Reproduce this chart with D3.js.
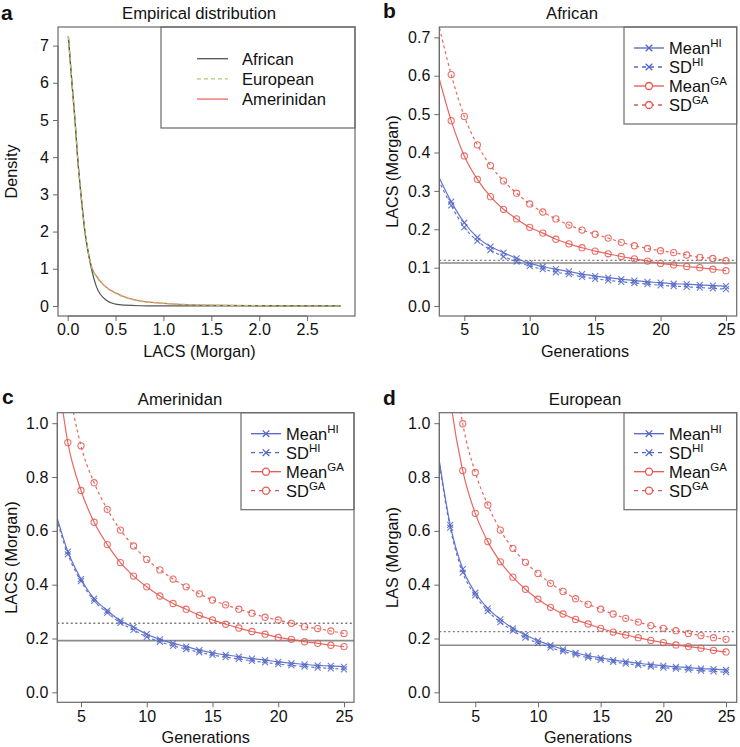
<!DOCTYPE html>
<html><head><meta charset="utf-8">
<script src="https://cdn.jsdelivr.net/npm/d3@7"></script>
<style>
html,body{margin:0;padding:0;background:#fff;}
svg{display:block;font-family:"Liberation Sans",Arial,Helvetica,sans-serif;}
</style></head>
<body><svg id="chart" width="740" height="747"></svg>
<script>
// ---------- Panel a: empirical densities ----------
const densX          = [0.007,0.045,0.077,0.104,0.139,0.18,0.21,0.25,0.3,0.4,0.5,0.6,0.75,1.0,1.25,1.5,2.0,2.5,2.85];
const densAfrican    = [7.26,6.0,5.0,4.0,3.0,2.0,1.5,0.98,0.52,0.16,0.05,0.02,0.005,0.001,0,0,0,0,0];
const densEuropean   = [7.26,6.0,5.0,4.0,3.0,2.0,1.52,1.05,0.79,0.5,0.34,0.23,0.13,0.07,0.035,0.02,0.006,0.002,0.001];
const densAmerinidan = [7.22,5.95,4.95,3.97,2.98,2.0,1.52,1.05,0.80,0.51,0.35,0.235,0.135,0.07,0.035,0.02,0.006,0.002,0.001];
const densLabels = ["African","European","Amerinidan"];

// ---------- Panel b: African ----------
const gensB   = [3,4,5,6,7,8,9,10,11,12,13,14,15,16,17,18,19,20,21,22,23,24,25];
const meanHI_B = [0.34,0.272,0.217,0.179,0.155,0.139,0.124,0.111,0.103,0.096,0.090,0.083,0.078,0.074,0.070,0.066,0.063,0.061,0.058,0.057,0.055,0.053,0.052];
const sdHI_B   = [0.33,0.262,0.205,0.170,0.146,0.129,0.116,0.104,0.096,0.088,0.083,0.076,0.071,0.067,0.063,0.060,0.057,0.054,0.052,0.050,0.048,0.046,0.044];
const meanGA_B = [0.603,0.483,0.391,0.330,0.285,0.252,0.227,0.205,0.190,0.174,0.162,0.152,0.143,0.136,0.129,0.123,0.117,0.111,0.107,0.103,0.100,0.096,0.092];
const sdGA_B   = [0.74,0.603,0.494,0.420,0.366,0.326,0.294,0.266,0.245,0.227,0.211,0.198,0.187,0.177,0.166,0.157,0.150,0.144,0.139,0.133,0.127,0.124,0.118];
const refB = {solid:0.112, dotted:0.119};

// ---------- Panel c: Amerinidan ----------
const gensC   = [3,4,5,6,7,8,9,10,11,12,13,14,15,16,17,18,19,20,21,22,23,24,25];
const meanHI_C = [0.68,0.523,0.421,0.348,0.304,0.266,0.242,0.216,0.197,0.182,0.170,0.157,0.147,0.139,0.133,0.125,0.120,0.113,0.108,0.104,0.100,0.098,0.095];
const sdHI_C   = [0.67,0.513,0.413,0.340,0.296,0.258,0.232,0.206,0.188,0.173,0.161,0.149,0.139,0.131,0.124,0.117,0.111,0.105,0.100,0.096,0.092,0.089,0.085];
const meanGA_C = [1.28,0.928,0.750,0.632,0.549,0.482,0.432,0.392,0.358,0.330,0.309,0.286,0.269,0.253,0.239,0.226,0.216,0.204,0.197,0.188,0.182,0.175,0.170];
const sdGA_C   = [1.55,1.16,0.916,0.779,0.680,0.603,0.544,0.494,0.455,0.421,0.392,0.366,0.343,0.325,0.309,0.294,0.279,0.269,0.2565,0.244,0.237,0.228,0.219];
const refC = {solid:0.192, dotted:0.2565};

// ---------- Panel d: European ----------
const gensD   = [2,3,4,5,6,7,8,9,10,11,12,13,14,15,16,17,18,19,20,21,22,23,24,25];
const meanHI_D = [0.90,0.622,0.458,0.370,0.312,0.271,0.238,0.213,0.192,0.175,0.160,0.147,0.136,0.128,0.120,0.114,0.108,0.103,0.099,0.095,0.092,0.088,0.086,0.083];
const sdHI_D   = [0.89,0.612,0.445,0.360,0.302,0.261,0.229,0.203,0.183,0.166,0.152,0.140,0.129,0.121,0.113,0.107,0.101,0.096,0.092,0.088,0.084,0.081,0.078,0.075];
const meanGA_D = [1.65,1.10,0.824,0.665,0.560,0.485,0.428,0.383,0.346,0.316,0.291,0.271,0.254,0.238,0.224,0.213,0.203,0.193,0.185,0.176,0.170,0.164,0.156,0.150];
const sdGA_D   = [2.0,1.33,0.998,0.817,0.696,0.603,0.535,0.483,0.442,0.405,0.375,0.348,0.327,0.309,0.291,0.275,0.261,0.248,0.238,0.229,0.219,0.211,0.203,0.197];
const refD = {solid:0.175, dotted:0.2255};

const genTicks = [5,10,15,20,25];
const ticksB = [0,0.1,0.2,0.3,0.4,0.5,0.6,0.7];
const ticksCD = [0,0.2,0.4,0.6,0.8,1.0];
const densYTicks = [0,1,2,3,4,5,6,7];
const densXTicks = [0,0.5,1.0,1.5,2.0,2.5];
const seriesNames = [["Mean","HI"],["SD","HI"],["Mean","GA"],["SD","GA"]];

const BLUE = "#5267c6", RED = "#e5574f", BOX = "#6a6a6a";
const svg = d3.select("#chart");
let clipId = 0;

function frame(p){
  const g = svg.append("g");
  const x = d3.scaleLinear().domain(p.xd).range([p.l, p.r]);
  const y = d3.scaleLinear().domain(p.yd).range([p.b, p.t]);
  const ya = d3.axisLeft(y).tickValues(p.yt).tickSize(5).tickPadding(4).tickFormat(p.yf);
  const xa = d3.axisBottom(x).tickValues(p.xt).tickSize(5).tickPadding(3).tickFormat(p.xf);
  const gy = g.append("g").attr("transform",`translate(${p.l},0)`).call(ya);
  const gx = g.append("g").attr("transform",`translate(0,${p.b})`).call(xa);
  [gy,gx].forEach(a=>{
    a.select(".domain").remove();
    a.selectAll("line").attr("stroke",BOX);
    a.selectAll("text").attr("fill","#111").style("font-size","16px");
  });
  gy.append("line").attr("x1",0).attr("x2",0).attr("y1",y(p.yt[0])).attr("y2",y(p.yt[p.yt.length-1])).attr("stroke",BOX);
  gx.append("line").attr("y1",0).attr("y2",0).attr("x1",x(p.xt[0])).attr("x2",x(p.xt[p.xt.length-1])).attr("stroke",BOX);
  const id = "clip"+(clipId++);
  svg.append("clipPath").attr("id",id).append("rect").attr("x",p.l).attr("y",p.t).attr("width",p.r-p.l).attr("height",p.b-p.t);
  const plot = g.append("g").attr("clip-path",`url(#${id})`);
  g.append("text").attr("x",p.titleX).attr("y",p.t-8).attr("text-anchor","middle").style("font-size","16.7px").attr("fill","#111").text(p.title);
  g.append("text").attr("x",p.letterX).attr("y",p.letterY).style("font-size","21px").style("font-weight","bold").attr("fill","#111").text(p.letter);
  g.append("text").attr("x",(p.l+p.r)/2 + (p.xlabDx||0)).attr("y",p.b+41).attr("text-anchor","middle").style("font-size","16.2px").attr("fill","#111").text(p.xlab);
  g.append("text").attr("transform",`translate(${p.ylabX},${(p.t+p.b)/2}) rotate(-90)`).attr("text-anchor","middle").attr("dy","0.35em").style("font-size","16.2px").attr("fill","#111").text(p.ylab);
  return {g, plot, x, y, drawBox(){ g.append("rect").attr("x",p.l).attr("y",p.t).attr("width",p.r-p.l).attr("height",p.b-p.t).attr("fill","none").attr("stroke",BOX).attr("stroke-width",1.2); }};
}

// ----- Panel a -----
(function(){
  const p = {l:58,r:355,t:27,b:316,xd:[-0.101,3.0],yd:[-0.27,7.5],xt:densXTicks,yt:densYTicks,
    xf:d3.format(".1f"), yf:d3.format("d"), title:"Empirical distribution", titleX:199, letter:"a", letterX:1, letterY:20,
    xlab:"LACS (Morgan)", xlabDx:-7, ylab:"Density", ylabX:11};
  const f = frame(p);
  const line = d3.line().x((d,i)=>f.x(densX[i])).y(d=>f.y(d)).curve(d3.curveMonotoneX);
  f.plot.append("path").attr("d",line(densAmerinidan)).attr("fill","none").attr("stroke","#ee6a62").attr("stroke-width",1.3);
  f.plot.append("path").attr("d",line(densAfrican)).attr("fill","none").attr("stroke","#555").attr("stroke-width",1.2);
  f.plot.append("path").attr("d",line(densEuropean)).attr("fill","none").attr("stroke","#a3cf6a").attr("stroke-width",1.3).attr("stroke-dasharray","4,3");
  const lg = f.g.append("g");
  lg.append("rect").attr("x",161).attr("y",p.t).attr("width",p.r-161).attr("height",101).attr("fill","#fff").attr("stroke",BOX).attr("stroke-width",1.2);
  const styles = [{c:"#555",d:null},{c:"#a3cf6a",d:"4,3"},{c:"#ee6a62",d:null}];
  densLabels.forEach((n,i)=>{
    const yy = 58.7 + i*20.2;
    lg.append("line").attr("x1",197).attr("x2",228).attr("y1",yy).attr("y2",yy).attr("stroke",styles[i].c).attr("stroke-width",1.3).attr("stroke-dasharray",styles[i].d);
    lg.append("text").attr("x",242).attr("y",yy).attr("dy","0.36em").style("font-size","16.6px").attr("fill","#111").text(n);
  });
  f.drawBox();
})();

function genPanel(p, gens, series, ref){
  const f = frame(p);
  f.plot.append("line").attr("x1",p.l).attr("x2",p.r).attr("y1",f.y(ref.solid)).attr("y2",f.y(ref.solid)).attr("stroke","#8a8a8a").attr("stroke-width",1.6);
  f.plot.append("line").attr("x1",p.l).attr("x2",p.r).attr("y1",f.y(ref.dotted)).attr("y2",f.y(ref.dotted)).attr("stroke","#7a7a7a").attr("stroke-width",1.4).attr("stroke-dasharray","2,2.5");
  const line = d3.line().x((d,i)=>f.x(gens[i])).y(d=>f.y(d)).curve(d3.curveMonotoneX);
  const specs = [{c:BLUE,dash:null,m:"x"},{c:BLUE,dash:"3,3",m:"x"},{c:RED,dash:null,m:"o"},{c:RED,dash:"3,3",m:"o"}];
  series.forEach((s,k)=>{
    const sp = specs[k];
    f.plot.append("path").attr("d",line(s)).attr("fill","none").attr("stroke",sp.c).attr("stroke-width",1.2).attr("stroke-dasharray",sp.dash).attr("opacity",0.9);
    const pts = s.map((v,i)=>({g:gens[i],v})).slice(1);
    pts.forEach(d=>{
      const cx = f.x(d.g), cy = f.y(d.v);
      if (sp.m==="x"){
        const r=3;
        f.plot.append("path").attr("d",`M${cx-r},${cy-r}L${cx+r},${cy+r}M${cx-r},${cy+r}L${cx+r},${cy-r}`).attr("stroke",sp.c).attr("stroke-width",1.1).attr("opacity",0.85);
      } else {
        f.plot.append("circle").attr("cx",cx).attr("cy",cy).attr("r",3.1).attr("fill","none").attr("stroke",sp.c).attr("stroke-width",1.1).attr("opacity",0.85);
      }
    });
  });
  const lx = p.legL, lw = p.r - p.legL;
  const lg = f.g.append("g");
  lg.append("rect").attr("x",lx).attr("y",p.t).attr("width",lw).attr("height",97).attr("fill","#fff").attr("stroke",BOX).attr("stroke-width",1.2);
  seriesNames.forEach((n,k)=>{
    const sp = specs[k], yy = p.t + 21 + k*19;
    lg.append("line").attr("x1",lx+10).attr("x2",lx+40).attr("y1",yy).attr("y2",yy).attr("stroke",sp.c).attr("stroke-width",1.3).attr("stroke-dasharray",sp.dash?"4,4":null);
    const cx = lx+25;
    if (sp.m==="x"){
      const r=3.3;
      lg.append("path").attr("d",`M${cx-r},${yy-r}L${cx+r},${yy+r}M${cx-r},${yy+r}L${cx+r},${yy-r}`).attr("stroke",sp.c).attr("stroke-width",1.3);
    } else {
      lg.append("circle").attr("cx",cx).attr("cy",yy).attr("r",3.5).attr("fill","#fff").attr("stroke",sp.c).attr("stroke-width",1.3);
    }
    const t = lg.append("text").attr("x",lx+45).attr("y",yy+6).style("font-size","16.5px").attr("fill","#111");
    t.append("tspan").text(n[0]);
    t.append("tspan").attr("dy",-7).style("font-size","11.5px").text(n[1]);
  });
  f.drawBox();
}

genPanel({l:439.3,r:736.7,t:27,b:316,xd:[3.09,25.82],yd:[-0.026,0.727],xt:genTicks,yt:ticksB,
  xf:d3.format("d"), yf:d3.format(".1f"), title:"African", titleX:572, letter:"b", letterX:383, letterY:18,
  xlab:"Generations", xlabDx:-3, ylab:"LACS (Morgan)", ylabX:392, legL:624},
  gensB, [meanHI_B, sdHI_B, meanGA_B, sdGA_B], refB);

genPanel({l:57.3,r:354,t:412.7,b:702.3,xd:[3.2,25.76],yd:[-0.037,1.039],xt:genTicks,yt:ticksCD,
  xf:d3.format("d"), yf:d3.format(".1f"), title:"Amerinidan", titleX:180, letter:"c", letterX:2, letterY:404,
  xlab:"Generations", xlabDx:0, ylab:"LACS (Morgan)", ylabX:11, legL:241},
  gensC, [meanHI_C, sdHI_C, meanGA_C, sdGA_C], refC);

genPanel({l:439.3,r:736.7,t:412.7,b:702.3,xd:[2.13,25.85],yd:[-0.037,1.039],xt:genTicks,yt:ticksCD,
  xf:d3.format("d"), yf:d3.format(".1f"), title:"European", titleX:585, letter:"d", letterX:383, letterY:405,
  xlab:"Generations", xlabDx:0, ylab:"LAS (Morgan)", ylabX:392, legL:624},
  gensD, [meanHI_D, sdHI_D, meanGA_D, sdGA_D], refD);
</script></body></html>
